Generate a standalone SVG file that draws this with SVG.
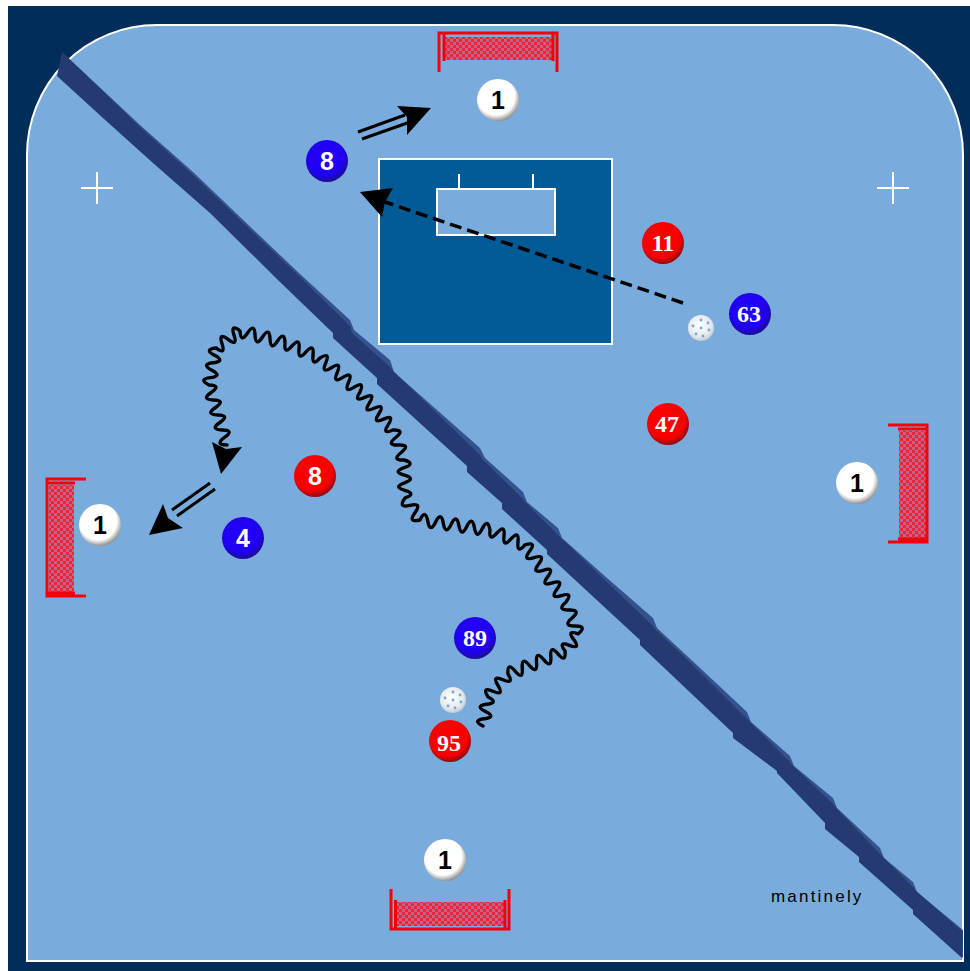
<svg xmlns="http://www.w3.org/2000/svg" width="970" height="971" viewBox="0 0 970 971">
<style>
.post{fill:none;stroke:#f40008;stroke-width:3}
.num{font-family:"Liberation Sans",Arial,sans-serif;font-weight:700;font-size:25px;text-anchor:middle}
.num2{font-family:"Liberation Serif","Times New Roman",serif;font-weight:700;font-size:24px;text-anchor:middle;fill:#fff}
.w{fill:#fff}.k{fill:#000}
.dot{fill:#6fa8e0}
.mark{fill:none;stroke:#fff;stroke-width:2}
</style>
<defs>
<radialGradient id="gr" cx=".45" cy=".41" r=".62"><stop offset="0" stop-color="#ff0000"/><stop offset=".72" stop-color="#f80000"/><stop offset="1" stop-color="#7c0c18"/></radialGradient>
<radialGradient id="gb" cx=".45" cy=".41" r=".62"><stop offset="0" stop-color="#2400ff"/><stop offset=".72" stop-color="#2000f0"/><stop offset="1" stop-color="#1c1478"/></radialGradient>
<radialGradient id="gw" cx=".45" cy=".41" r=".62"><stop offset="0" stop-color="#ffffff"/><stop offset=".72" stop-color="#ffffff"/><stop offset="1" stop-color="#807c78"/></radialGradient>
<radialGradient id="gf" cx=".45" cy=".4" r=".62"><stop offset="0" stop-color="#ffffff"/><stop offset=".7" stop-color="#e6e9ec"/><stop offset="1" stop-color="#bcc6cf"/></radialGradient>
<pattern id="net" width="6" height="6" patternUnits="userSpaceOnUse"><rect width="6" height="6" fill="#c0648c"/><rect width="3" height="3" fill="#ee2434"/><rect x="3" y="3" width="3" height="3" fill="#ee2434"/></pattern>
</defs>
<rect width="970" height="971" fill="#fff"/>
<rect x="8" y="6" width="962" height="965" fill="#012d5a"/>
<path id="rink" d="M27 961V155A130 130 0 0 1 157 25H833A130 130 0 0 1 963 155V961Z" fill="#79acdc" stroke="#fff" stroke-width="2"/>
<g id="goal-box">
<rect x="379" y="159" width="233" height="185" fill="#005a96" stroke="#fff" stroke-width="2"/>
<rect x="437" y="189" width="118" height="46" fill="#79acdc" stroke="#fff" stroke-width="2"/>
<path class="mark" d="M459 174V189M533 174V189"/>
</g>
<path id="cross-left" class="mark" d="M81 188H113M97 172V204"/>
<path id="cross-right" class="mark" d="M877 188H909M893 172V204"/>
<g id="mantinel">
<path fill="#33528f" d="M62 52 140 125 193 172 260 236 300 274 350 320 354 330 390 360 394 372 480 448 485 458 523 492 527 502 558 528 562 538 607 578 653 618 657 628 700 668 747 712 751 722 790 756 794 766 833 798 837 808 880 848 884 858 913 882 917 892 963 930 963 958 913 900 750 735 600 590 300 290 100 100Z"/>
<path fill="#243a70" d="M62 52 140 127 193 175 260 239 300 277 350 326 352 333 390 367 392 370 480 455 482 459 523 499 525 502 558 535 560 537 607 582 653 626 655 629 700 672 747 719 749 721 790 762 792 765 833 804 835 807 880 854 882 856 913 887 915 890 963 932 962 958 913 914 913 910 859 862 859 857 825 829 825 823 777 773 777 771 733 738 733 733 640 645 640 640 547 554 547 550 502 509 502 503 467 472 467 466 377 384 377 378 333 338 333 333 280 282 210 213 153 163 103 118 57 76Z"/>
</g>
<g id="connectors">
<path fill="none" stroke="#000" stroke-width="3.400" stroke-linecap="round" stroke-linejoin="round" d="M483 726
q-11.200 -5.600 1.25 -7.25 q12.400 -1.600 1.25 -7.25 q-11.200 -5.600 1.25 -7.25 q12.400 -1.600 1.25 -7.25
q-6.500 -10.800 5 -5.750 q11.500 5 5 -5.750 q-6.500 -10.800 5 -5.750 q11.500 5 5 -5.750
q-.9 -12.500 7.130 -2.880 q8.100 9.700 7.130 -2.880 q-.9 -12.500 7.130 -2.880 q8.100 9.700 7.130 -2.880 q-.9 -12.500 7.130 -2.880 q8.100 9.700 7.130 -2.880 q-.9 -12.500 7.130 -2.880 q8.100 9.700 7.130 -2.880
q-7.300 -10.100 4.330 -5.670 q11.700 4.500 4.330 -5.670 q-7.300 -10.100 4.330 -5.670
q9.700 -8.200 -3 -8 q-12.700 .2 -3 -8 q9.700 -8.200 -3 -8 q-12.700 .2 -3 -8
q7.400 -10.200 -4.560 -6.330 q-12 3.800 -4.560 -6.330 q7.400 -10.200 -4.560 -6.330 q-12 3.800 -4.560 -6.330 q7.400 -10.200 -4.560 -6.330 q-12 3.800 -4.560 -6.330 q7.400 -10.200 -4.560 -6.330 q-12 3.800 -4.560 -6.330 q7.400 -10.200 -4.560 -6.330
q-8.200 9.500 -7 -3 q1.200 -12.500 -7 -3 q-8.200 9.500 -7 -3 q1.200 -12.500 -7 -3 q-8.200 9.500 -7 -3
q-2.200 -12.500 -7.780 -1.110 q-5.600 11.300 -7.780 -1.110 q-2.200 -12.500 -7.780 -1.110 q-5.600 11.300 -7.780 -1.110 q-2.200 -12.500 -7.780 -1.110 q-5.600 11.300 -7.780 -1.110 q-2.200 -12.500 -7.780 -1.110 q-5.600 11.300 -7.780 -1.110 q-2.200 -12.500 -7.780 -1.110
q-12.400 3.100 -5 -7.330 q7.400 -10.500 -5 -7.330 q-12.400 3.100 -5 -7.330
q11.900 -4.200 -.2 -7.600 q-12.100 -3.400 -.2 -7.600 q11.900 -4.200 -.2 -7.600 q-12.100 -3.400 -.2 -7.600 q11.900 -4.200 -.2 -7.600
q-12.700 .4 -2.750 -7.500 q9.900 -7.900 -2.750 -7.500 q-12.700 .4 -2.750 -7.500 q9.900 -7.900 -2.750 -7.500
q-11.500 5.200 -4.710 -5.430 q6.700 -10.600 -4.710 -5.430 q-11.500 5.200 -4.710 -5.430 q6.700 -10.600 -4.710 -5.430 q-11.500 5.200 -4.710 -5.430 q6.700 -10.600 -4.710 -5.430 q-11.500 5.200 -4.710 -5.430
q4.900 -11.500 -5.710 -4.860 q-10.700 6.700 -5.710 -4.860 q4.900 -11.500 -5.710 -4.860 q-10.700 6.700 -5.710 -4.860 q4.900 -11.500 -5.710 -4.860 q-10.700 6.700 -5.710 -4.860 q4.900 -11.500 -5.710 -4.860
q-8.200 9.500 -7 -3 q1.200 -12.500 -7 -3 q-8.200 9.500 -7 -3 q1.200 -12.500 -7 -3 q-8.200 9.500 -7 -3
q-.6 -12.600 -7.500 -2 q-6.900 10.600 -7.500 -2 q-.6 -12.600 -7.500 -2 q-6.900 10.600 -7.500 -2 q-.6 -12.600 -7.500 -2 q-6.900 10.600 -7.500 -2
q-9.900 -7.700 -6 4.250 q3.900 11.900 -6 4.250 q-9.900 -7.700 -6 4.250 q3.900 11.900 -6 4.250
q-12.500 1.500 -1.400 7.400 q11.100 5.900 -1.400 7.400 q-12.500 1.500 -1.400 7.400 q11.100 5.900 -1.400 7.400 q-12.500 1.500 -1.400 7.400
q12.600 .4 2.170 7.500 q-10.400 7.100 2.170 7.500 q12.600 .4 2.170 7.500 q-10.400 7.100 2.170 7.500 q12.600 .4 2.170 7.500 q-10.400 7.100 2.170 7.500
q12.700 -.1 2.500 7.500 q-10.100 7.600 2.500 7.500"/>
<polygon points="212,442 226,449 242,447 221,474"/>
<path fill="none" stroke="#000" stroke-width="3.500" stroke-dasharray="12 6" d="M683 303 385 202"/>
<polygon points="360,192 393,188 385,202 382,217"/>
<path fill="none" stroke="#000" stroke-width="3" d="M358 132 405 115M362 139 410 122"/>
<polygon points="431,108 397,106 407,117 407,135"/>
<path fill="none" stroke="#000" stroke-width="3" d="M210 483 172 510M215 489 177 516"/>
<polygon points="149,535 163,504 168,518 183,528"/>
</g>
<g id="goal-top">
<rect x="444" y="37" width="109" height="23" fill="url(#net)"/>
<path class="post" d="M439 72V33H557V72M444 33V61M553 33V61"/>
</g>
<g id="goal-left">
<rect x="49" y="485" width="25" height="107" fill="url(#net)"/>
<path class="post" d="M86 479H47V596H86M47 483H75M47 593H75"/>
</g>
<g id="goal-right">
<rect x="899" y="431" width="27" height="107" fill="url(#net)"/>
<path class="post" d="M888 425H927V542H888M927 429H898M927 539H898"/>
</g>
<g id="goal-bottom">
<rect x="396" y="902" width="108" height="24" fill="url(#net)"/>
<path class="post" d="M391 889V929H509V889M395.500 900V928M505 900V928"/>
</g>
<g id="p-w1-top"><circle cx="498" cy="100" r="21" fill="url(#gw)"/><text class="num k" x="498" y="109">1</text></g>
<g id="p-w1-left"><circle cx="100" cy="525" r="21" fill="url(#gw)"/><text class="num k" x="100" y="534">1</text></g>
<g id="p-w1-right"><circle cx="857" cy="483" r="21" fill="url(#gw)"/><text class="num k" x="857" y="492">1</text></g>
<g id="p-w1-bottom"><circle cx="445" cy="860" r="21" fill="url(#gw)"/><text class="num k" x="445" y="869">1</text></g>
<g id="p-b8"><circle cx="327" cy="161" r="21" fill="url(#gb)"/><text class="num w" x="327" y="170">8</text></g>
<g id="p-b4"><circle cx="243" cy="538" r="21" fill="url(#gb)"/><text class="num w" x="243" y="547">4</text></g>
<g id="p-b89"><circle cx="475" cy="638" r="21" fill="url(#gb)"/><text class="num2" x="475" y="646">89</text></g>
<g id="p-b63"><circle cx="750" cy="314" r="21" fill="url(#gb)"/><text class="num2" x="749" y="322">63</text></g>
<g id="p-r11"><circle cx="663" cy="243" r="21" fill="url(#gr)"/><text class="num2" x="663" y="251">11</text></g>
<g id="p-r47"><circle cx="668" cy="424" r="21" fill="url(#gr)"/><text class="num2" x="667" y="432">47</text></g>
<g id="p-r8"><circle cx="315" cy="476" r="21" fill="url(#gr)"/><text class="num w" x="315" y="485">8</text></g>
<g id="p-r95"><circle cx="450" cy="741" r="21" fill="url(#gr)"/><text class="num2" x="449" y="751">95</text></g>
<g id="ball-top"><circle cx="701" cy="328" r="13" fill="url(#gf)"/><g class="dot"><circle cx="693" cy="326" r="1.400"/><circle cx="701" cy="320" r="1.400"/><circle cx="708" cy="323" r="1.400"/><circle cx="701" cy="328" r="1.400"/><circle cx="709" cy="330" r="1.400"/><circle cx="696" cy="334" r="1.400"/><circle cx="703" cy="336" r="1.400"/></g></g>
<g id="ball-bottom"><circle cx="453" cy="700" r="13" fill="url(#gf)"/><g class="dot"><circle cx="445" cy="698" r="1.400"/><circle cx="453" cy="692" r="1.400"/><circle cx="460" cy="695" r="1.400"/><circle cx="453" cy="700" r="1.400"/><circle cx="461" cy="702" r="1.400"/><circle cx="448" cy="706" r="1.400"/><circle cx="455" cy="708" r="1.400"/></g></g>
<text id="label" x="771" y="902" font-family="'Liberation Sans',Arial,sans-serif" font-size="17" letter-spacing="2.2" fill="#000">mantinely</text>
</svg>
